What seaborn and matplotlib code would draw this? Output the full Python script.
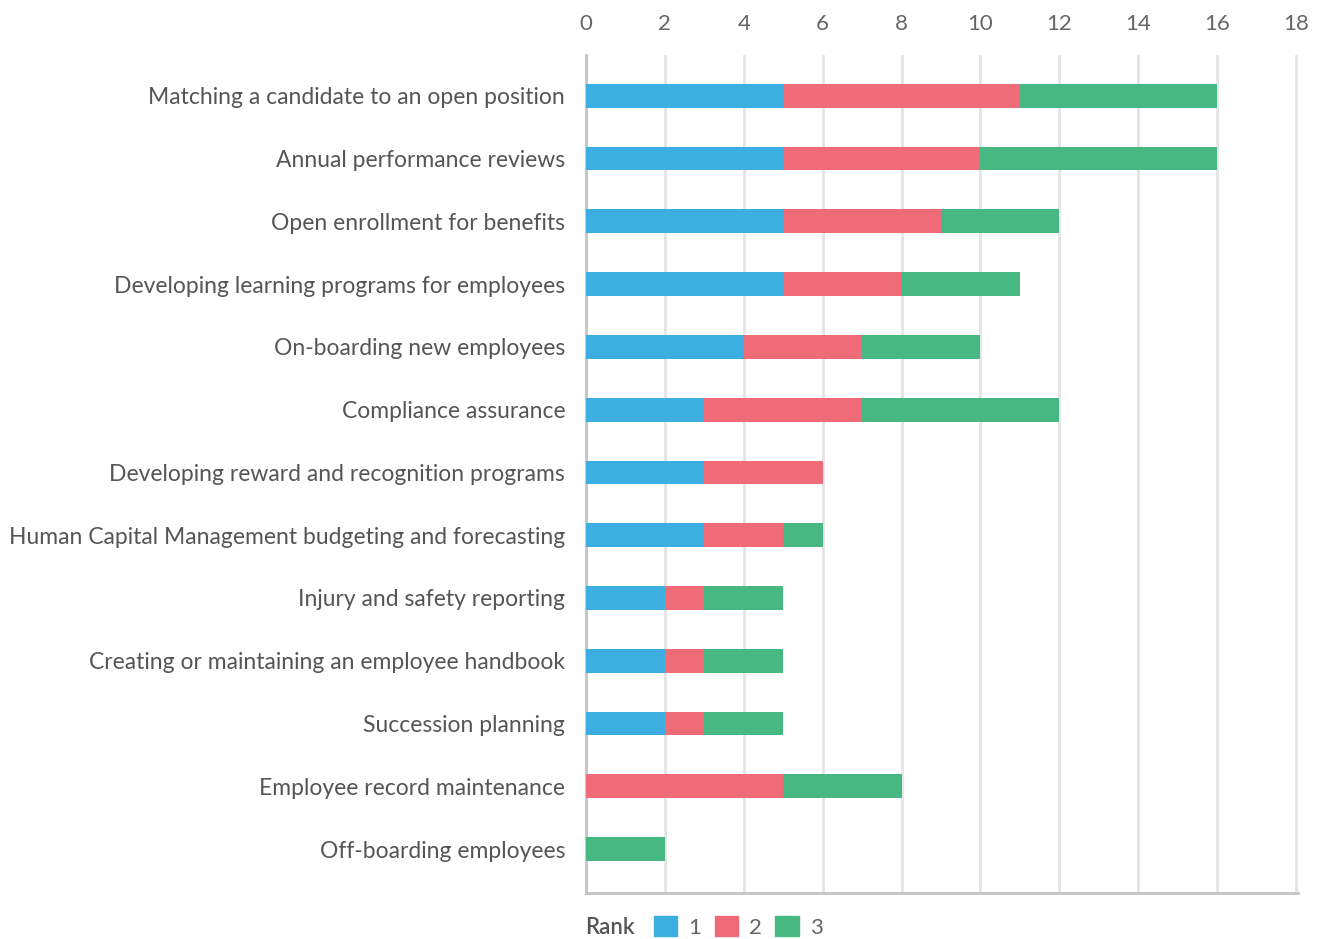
import matplotlib
matplotlib.use("Agg")
import matplotlib.pyplot as plt
import matplotlib.patches as mpatches
import seaborn as sns
import pandas as pd
import numpy as np

categories = [
    "Matching a candidate to an open position",
    "Annual performance reviews",
    "Open enrollment for benefits",
    "Developing learning programs for employees",
    "On-boarding new employees",
    "Compliance assurance",
    "Developing reward and recognition programs",
    "Human Capital Management budgeting and forecasting",
    "Injury and safety reporting",
    "Creating or maintaining an employee handbook",
    "Succession planning",
    "Employee record maintenance",
    "Off-boarding employees",
]
rank1 = [5, 5, 5, 5, 4, 3, 3, 3, 2, 2, 2, 0, 0]
rank2 = [6, 5, 4, 3, 3, 4, 3, 2, 1, 1, 1, 5, 0]
rank3 = [5, 6, 3, 3, 3, 5, 0, 1, 2, 2, 2, 3, 2]
rank_labels = ["1", "2", "3"]
colors = ["#3CAFE0", "#EE6B77", "#47B881"]
xticks = list(range(0, 19, 2))

sns.set_style("white")
plt.rcParams["font.family"] = ["Lato", "DejaVu Sans"]

df = pd.DataFrame({"cat": categories, "r1": rank1, "r2": rank2, "r3": rank3})
df["c1"] = df["r1"]
df["c2"] = df["r1"] + df["r2"]
df["c3"] = df["c2"] + df["r3"]

fig = plt.figure(figsize=(13.26, 9.39), dpi=100)
ax = fig.add_axes([586 / 1326, 1 - 893 / 939, (1298 - 586) / 1326, (893 - 55) / 939])

for col, c in zip(["c3", "c2", "c1"], [colors[2], colors[1], colors[0]]):
    sns.barplot(data=df, x=col, y="cat", orient="h", color=c, width=0.38,
                saturation=1, ax=ax, zorder=3, linewidth=0)

ax.set_xlim(0, 18.05)
ax.set_ylim(len(categories) - 1 + 0.7, -0.65)
ax.set_xticks(xticks)
ax.set_xticklabels([str(t) for t in xticks])
ax.xaxis.tick_top()
ax.tick_params(axis="x", length=0, pad=15, labelsize=16, labelcolor="#666666")
ax.tick_params(axis="y", length=0, pad=15, labelsize=16.5, labelcolor="#555555")
for lbl in ax.get_yticklabels():
    lbl.set_y(lbl.get_position()[1])
ax.set_xlabel("")
ax.set_ylabel("")
ax.grid(axis="x", color="#e4e4e4", linewidth=2, zorder=0)
ax.grid(axis="y", visible=False)
for s in ["top", "right"]:
    ax.spines[s].set_visible(False)
for s in ["left", "bottom"]:
    ax.spines[s].set_color("#c4c4c8")
    ax.spines[s].set_linewidth(2)

fig.text(585 / 1326, 1 - 927 / 939, "Rank", fontsize=16, color="#555555",
         va="center", ha="left", fontweight="semibold")
handles = [mpatches.Patch(color=c, label=l) for c, l in zip(colors, rank_labels)]
fig.legend(handles=handles, loc="center left", ncol=3,
           bbox_to_anchor=(654 / 1326, 1 - 927 / 939), frameon=False,
           fontsize=16, handlelength=1.05, handleheight=1.0, handletextpad=0.5,
           columnspacing=0.6, labelcolor="#666666", borderpad=0, borderaxespad=0)

fig.savefig("out.png", dpi=100)
